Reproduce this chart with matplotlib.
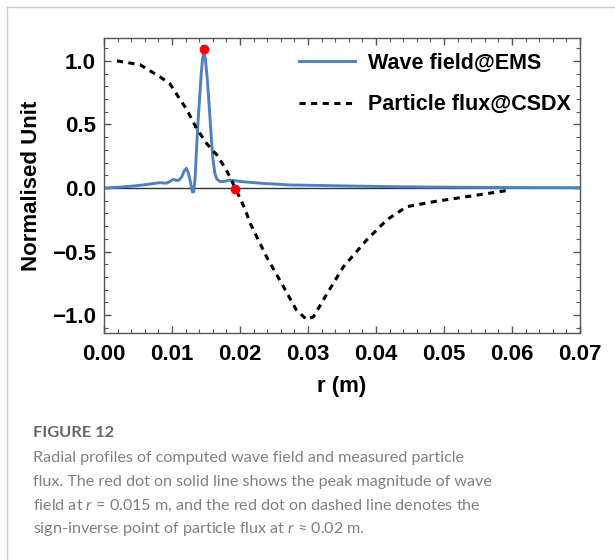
import matplotlib
matplotlib.use('Agg')
import matplotlib.pyplot as plt
from matplotlib.lines import Line2D

# wave field (solid blue)
r_wave = [0.0, 0.0020, 0.0043, 0.0060, 0.0082, 0.0092, 0.0095, 0.0102, 0.0107, 0.0110,
          0.0114, 0.0118, 0.0121, 0.0124, 0.0127, 0.0130, 0.0132, 0.0134, 0.0136,
          0.0138, 0.0140, 0.0143, 0.0145, 0.0147, 0.0149, 0.0152, 0.0155, 0.0158,
          0.0160, 0.0163, 0.0166, 0.0171, 0.0177, 0.0185, 0.0200, 0.0230, 0.0274,
          0.0320, 0.0360, 0.0435, 0.0500, 0.0600, 0.0700]
wave = [0.0, 0.006, 0.016, 0.026, 0.042, 0.038, 0.046, 0.068, 0.060, 0.062,
        0.085, 0.135, 0.155, 0.120, 0.050, -0.030, -0.030, 0.080, 0.300,
        0.500, 0.660, 0.900, 1.020, 1.065, 1.020, 0.850, 0.620, 0.380,
        0.240, 0.115, 0.070, 0.050, 0.052, 0.063, 0.052, 0.038, 0.024,
        0.020, 0.016, 0.010, 0.007, 0.004, 0.003]

# particle flux (dashed black)
r_flux = [0.0019, 0.0053, 0.0065, 0.0082, 0.0097, 0.0109, 0.0122, 0.0136, 0.0151,
          0.0166, 0.0180, 0.0193, 0.0207, 0.0215, 0.0239, 0.0264, 0.0283, 0.0298,
          0.0308, 0.0328, 0.0352, 0.0386, 0.0416, 0.0445, 0.0484, 0.0533, 0.0597]
flux = [1.0, 0.97, 0.93, 0.876, 0.82, 0.72, 0.614, 0.47, 0.35,
        0.26, 0.142, 0.0, -0.16, -0.278, -0.54, -0.777, -0.96, -1.034,
        -1.013, -0.83, -0.62, -0.41, -0.25, -0.147, -0.108, -0.068, -0.016]

# red markers
r_dots = [0.0147, 0.0193]
dots = [1.09, -0.005]

plt.rcParams['font.family'] = ['Liberation Sans', 'DejaVu Sans']
plt.rcParams['mathtext.fontset'] = 'custom'
plt.rcParams['mathtext.it'] = 'Lato:italic'
plt.rcParams['mathtext.rm'] = 'Lato'

fig = plt.figure(figsize=(6.15, 5.6), dpi=100)
ax = fig.add_axes([104/615, 1-333/560, 476/615, 295/560])

ax.axhline(0, color='#333333', lw=1, zorder=1)
ax.plot(r_wave, wave, color='#4f81bd', lw=2.1, label='Wave field@EMS', zorder=2)
ax.plot(r_flux, flux, color='black', lw=2.2, dashes=(2.0, 1.8), label='Particle flux@CSDX', zorder=3)
ax.plot(r_dots, dots, 'o', color='red', ms=6, zorder=4)

ax.set_xlim(0, 0.07)
ax.set_ylim(-1.14, 1.18)
ax.set_xticks([0.0, 0.01, 0.02, 0.03, 0.04, 0.05, 0.06, 0.07])
ax.set_xticklabels(['0.00', '0.01', '0.02', '0.03', '0.04', '0.05', '0.06', '0.07'])
ax.set_yticks([-1.0, -0.5, 0.0, 0.5, 1.0])
ax.set_yticklabels(['\u22121.0', '\u22120.5', '0.0', '0.5', '1.0'])
ax.minorticks_on()
ax.xaxis.set_minor_locator(matplotlib.ticker.MultipleLocator(0.002))
ax.yaxis.set_minor_locator(matplotlib.ticker.MultipleLocator(0.1))
ax.tick_params(which='both', direction='in', top=True, right=True, color='#555555')
ax.tick_params(which='major', length=5, width=1, labelsize=16, pad=6)
ax.tick_params(which='major', axis='x', pad=8)
ax.tick_params(which='minor', length=3, width=0.8)
for lab in ax.get_xticklabels() + ax.get_yticklabels():
    lab.set_fontweight('bold')
for s in ax.spines.values():
    s.set_color('#555555')
    s.set_linewidth(1)

ax.set_xlabel('r (m)', fontsize=16, fontweight='bold', labelpad=8)
ax.set_ylabel('Normalised Unit', fontsize=16, fontweight='bold', labelpad=7)

ax.legend(loc='upper left', bbox_to_anchor=(0.41, 0.95), frameon=False,
          prop={'size': 15.5, 'weight': 'bold'}, handlelength=2.6, handletextpad=0.6,
          labelspacing=0.95, borderpad=0, borderaxespad=0)

# card frame
fig.add_artist(Line2D([7/615, 7/615], [0, 1-7/560], color='#cccccc', lw=1))
fig.add_artist(Line2D([7/615, 1], [1-7/560, 1-7/560], color='#cccccc', lw=1))

# caption
fig.text(33/615, 1-433/560, 'FIGURE 12', fontsize=11.8, color='#666666', family='Lato',
         fontweight='bold', va='center')
lines = ['Radial profiles of computed wave field and measured particle',
         'flux. The red dot on solid line shows the peak magnitude of wave',
         'field at $r$ = 0.015 m, and the red dot on dashed line denotes the',
         'sign-inverse point of particle flux at $r$ \u2248 0.02 m.']
for i, t in enumerate(lines):
    fig.text(33/615, 1-(458+23.7*i)/560, t, fontsize=11.6, color='#808080',
             family='Lato', fontweight='normal', va='center')

plt.savefig('out.png', dpi=100)
